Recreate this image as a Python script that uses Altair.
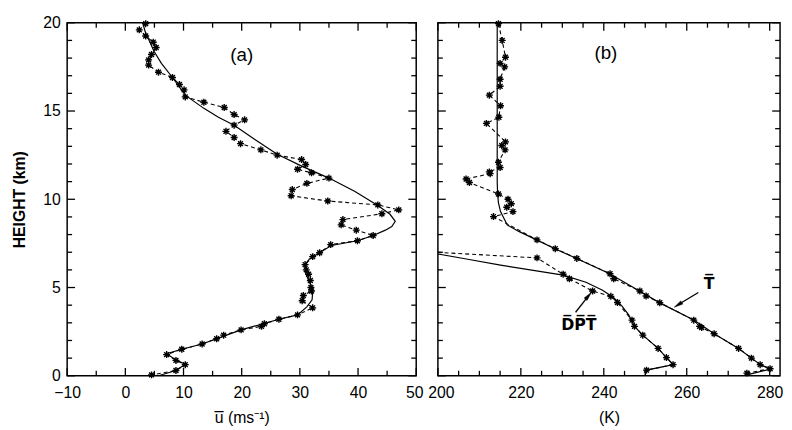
import altair as alt
import pandas as pd

# ---------------- panel (a): zonal wind ----------------
A_OBS_U = [3.5, 2.4, 3.5, 4.8, 5.3, 4.5, 4.0, 4.0, 5.7, 8.1,
           9.3, 10.1, 10.3, 13.5, 17.0, 18.7, 20.5, 18.7, 17.3, 18.7,
           19.8, 23.3, 26.1, 30.3, 31.0, 29.6, 32.0, 35.0, 31.2, 28.7,
           28.5, 34.8, 43.4, 47.0, 44.1, 37.4, 37.1, 39.7, 42.6, 39.9,
           35.3, 33.4, 32.2, 30.9, 31.1, 31.5, 31.8, 31.9, 32.0, 30.6,
           30.4, 32.2, 29.6, 26.4, 23.9, 23.4, 19.9, 16.9, 15.7, 13.2,
           9.7, 7.1, 8.7, 10.3, 8.7, 4.5]
A_OBS_H = [19.95, 19.6, 19.25, 18.9, 18.6, 18.2, 17.9, 17.6, 17.2, 16.9,
           16.5, 16.2, 15.8, 15.5, 15.2, 14.8, 14.5, 14.2, 13.85, 13.5,
           13.15, 12.8, 12.5, 12.25, 11.97, 11.7, 11.5, 11.2, 10.9, 10.55,
           10.2, 9.9, 9.68, 9.4, 9.18, 8.85, 8.55, 8.25, 7.95, 7.65,
           7.43, 6.97, 6.75, 6.3, 6.0, 5.75, 5.4, 5.0, 4.8, 4.55,
           4.25, 3.85, 3.45, 3.2, 2.95, 2.8, 2.6, 2.3, 2.1, 1.8,
           1.5, 1.2, 0.87, 0.63, 0.3, 0.05]
A_FIT_U = [3.0, 3.4, 4.1, 4.9, 6.2, 8.1, 10.3, 13.5, 16.0, 18.7,
           22.2, 26.1, 30.5, 35.0, 39.4, 43.4, 45.5, 46.4, 45.8, 44.7,
           42.6, 39.9, 35.4, 33.4, 31.6, 30.9, 31.0, 31.8, 32.2, 32.1,
           31.2, 29.6, 26.4, 19.9, 13.2, 9.7, 7.1, 8.7, 10.3, 8.7, 5.7]
A_FIT_H = [20.0, 19.5, 19.0, 18.4, 17.7, 16.9, 15.9, 15.15, 14.65, 14.2,
           13.4, 12.55, 11.85, 11.2, 10.45, 9.65, 9.15, 8.75, 8.45, 8.25,
           7.95, 7.65, 7.38, 6.97, 6.6, 6.3, 5.8, 5.2, 4.7, 4.3,
           3.9, 3.45, 3.2, 2.6, 1.8, 1.5, 1.25, 0.9, 0.65, 0.3, 0.0]

# ---------------- panel (b): temperature and dew point ----------------
T_OBS_T = [214.6, 215.5, 216.3, 215.0, 216.1, 215.0, 215.0, 212.4, 215.1, 214.7,
           211.7, 216.3, 215.4, 216.2, 214.6, 215.0, 212.4, 212.6, 206.8, 207.6,
           214.6, 216.9, 217.7, 216.6, 218.1, 213.4, 223.9, 228.3, 233.5, 241.5,
           242.4, 248.7, 250.2, 253.5, 261.7, 263.1, 263.6, 266.6, 272.5, 275.6,
           277.7, 280.1, 274.5]
T_OBS_H = [19.95, 19.0, 18.05, 17.7, 17.5, 16.8, 16.4, 15.9, 15.3, 14.65,
           14.3, 13.25, 13.05, 12.8, 12.1, 11.8, 11.55, 11.45, 11.15, 10.95,
           10.3, 10.0, 9.75, 9.55, 9.3, 9.02, 7.7, 7.2, 6.65, 5.78,
           5.5, 4.8, 4.52, 4.14, 3.15, 2.8, 2.73, 2.38, 1.55, 1.0,
           0.63, 0.4, 0.15]
T_FIT_T = [214.3, 214.3, 214.4, 214.6, 215.1, 216.7, 219.5, 223.8, 228.2, 233.7,
           241.3, 248.3, 253.5, 261.8, 266.6, 272.5, 275.6, 277.8, 280.2, 274.5]
T_FIT_H = [20.0, 11.0, 10.3, 9.8, 9.3, 8.55, 8.18, 7.7, 7.2, 6.62,
           5.8, 4.85, 4.13, 3.15, 2.38, 1.55, 1.0, 0.63, 0.38, 0.05]

D_OBS_T = [180.0, 223.9, 230.2, 231.7, 237.3, 241.7, 243.3, 246.8, 247.4, 249.4,
           253.1, 255.1, 256.7, 250.3]
D_OBS_H = [7.25, 6.68, 5.75, 5.5, 4.8, 4.5, 4.15, 3.15, 2.8, 2.3,
           1.55, 1.03, 0.63, 0.32]
D_FIT_T = [190.0, 200.0, 207.2, 215.1, 223.0, 230.2, 235.7, 239.7, 242.4, 244.4,
           246.0, 247.4, 249.4, 253.1, 255.1, 256.8, 250.3, 250.0]
D_FIT_H = [7.32, 6.9, 6.6, 6.27, 5.97, 5.7, 5.3, 4.85, 4.42, 3.95,
           3.45, 2.8, 2.3, 1.55, 1.03, 0.63, 0.32, 0.05]

# ---------------- axes ----------------
A_X_DOMAIN = [-10, 50]
B_X_DOMAIN = [200, 282.5]
Y_DOMAIN = [0, 20]
A_X_MAJOR = [-10, 0, 10, 20, 30, 40, 50]
A_X_MINOR = [-5, 5, 15, 25, 35, 45]
B_X_MAJOR = [200, 220, 240, 260, 280]
B_X_MINOR = [205, 210, 215, 225, 230, 235, 245, 250, 255, 265, 270, 275]
Y_MAJOR = [0, 5, 10, 15, 20]
Y_MINOR = [1, 2, 3, 4, 6, 7, 8, 9, 11, 12, 13, 14, 16, 17, 18, 19]

# ---------------- annotations ----------------
A_LABEL = {"x": [20.0], "y": [18.15], "t": ["(a)"]}
B_LABEL = {"x": [240.5], "y": [18.3], "t": ["(b)"]}
B_NAMES = {"x": [265.4, 234.0], "y": [5.2, 2.9], "t": ["T\u0305", "D\u0305P\u0305T\u0305"]}
ARROW_X = [262.8, 233.2]
ARROW_Y = [4.72, 3.6]
ARROW_X2 = [257.9, 236.3]
ARROW_Y2 = [4.02, 4.53]
ARROW_ANGLE = [238, 40]

FONT = "Liberation Sans"
ASTER = "M-1,0L1,0M0,-1L0,1M-0.7,-0.7L0.7,0.7M-0.7,0.7L0.7,-0.7"
HEAD = "M0,-1L0.42,1L-0.42,1Z"
W_A, W_B, H = 354, 347, 358
MAJ, MIN = 8, 5   # tick lengths in px


def xy(xs, ys):
    return pd.DataFrame({"x": xs, "y": ys, "i": list(range(len(xs)))})


def x_axis(values, title, edge_value, edge_shift):
    return alt.Axis(values=values, title=title, ticks=False, domain=False, grid=False,
                    labelFlush=False, labelPadding=9, labelFontSize=16, labelFont=FONT,
                    labelColor="black", titleFont=FONT, titleFontSize=16,
                    titleFontWeight="normal", titleColor="black", titleY=47,
                    titleBaseline="alphabetic", format="d",
                    labelOffset={"condition": {"test": f"datum.value == {edge_value}",
                                               "value": edge_shift}, "value": 0})


def tick_df(W, xdom, xmaj, xmin):
    """Inward frame ticks as segments (x, y) -> (x2, y2) in data space."""
    ppx = W / (xdom[1] - xdom[0])
    ppy = H / (Y_DOMAIN[1] - Y_DOMAIN[0])
    x0, x1, y0, y1 = [], [], [], []
    for vals, ln in ((xmaj, MAJ), (xmin, MIN)):
        dy = ln / ppy
        for v in vals:
            x0 += [v, v]
            x1 += [v, v]
            y0 += [Y_DOMAIN[0], Y_DOMAIN[1]]
            y1 += [Y_DOMAIN[0] + dy, Y_DOMAIN[1] - dy]
    for vals, ln in ((Y_MAJOR, MAJ), (Y_MINOR, MIN)):
        dx = ln / ppx
        for v in vals:
            x0 += [xdom[0], xdom[1]]
            x1 += [xdom[0] + dx, xdom[1] - dx]
            y0 += [v, v]
            y1 += [v, v]
    return pd.DataFrame({"x": x0, "y": y0, "x2": x1, "y2": y1})


def profile_layers(X, Y, fit, obs, clip=False):
    fd = xy(*fit)
    od = xy(*obs)
    return [
        alt.Chart(fd).mark_line(color="black", strokeWidth=1.2, clip=clip).encode(x=X, y=Y, order="i:Q"),
        alt.Chart(od).mark_line(color="black", strokeWidth=1.1, strokeDash=[4, 3], clip=clip).encode(x=X, y=Y, order="i:Q"),
        alt.Chart(od).mark_point(shape=ASTER, size=50, stroke="black", strokeWidth=1.4,
                                 filled=False, opacity=1, clip=clip).encode(x=X, y=Y),
    ]


# ---------- panel (a) ----------
XA = alt.X("x:Q", scale=alt.Scale(domain=A_X_DOMAIN, nice=False, zero=False),
           axis=x_axis(A_X_MAJOR, "u\u0305 (ms\u207b\u00b9)", 50, -2))
YA = alt.Y("y:Q", scale=alt.Scale(domain=Y_DOMAIN, nice=False, zero=False),
           axis=alt.Axis(values=Y_MAJOR, title="HEIGHT (km)", ticks=False, domain=False, grid=False,
                         labelPadding=7, labelFontSize=16, labelFont=FONT, labelColor="black",
                         titleFont=FONT, titleFontSize=16, titleFontWeight="bold", titleColor="black",
                         titleX=-48, titleBaseline="middle", format="d"))

a_ticks = alt.Chart(tick_df(W_A, A_X_DOMAIN, A_X_MAJOR, A_X_MINOR)).mark_rule(
    color="black", strokeWidth=1.3).encode(x=XA, y=YA, x2="x2:Q", y2="y2:Q")
a_layers = [a_ticks] + profile_layers(XA, YA, (A_FIT_U, A_FIT_H), (A_OBS_U, A_OBS_H))
a_layers.append(alt.Chart(pd.DataFrame(A_LABEL)).mark_text(font=FONT, fontSize=19, color="black")
                .encode(x=XA, y=YA, text="t:N"))
panel_a = alt.layer(*a_layers).properties(width=W_A, height=H)

# ---------- panel (b) ----------
XB = alt.X("x:Q", scale=alt.Scale(domain=B_X_DOMAIN, nice=False, zero=False),
           axis=x_axis(B_X_MAJOR, "(K)", 200, 3))
YB = alt.Y("y:Q", scale=alt.Scale(domain=Y_DOMAIN, nice=False, zero=False), axis=None)

b_ticks = alt.Chart(tick_df(W_B, B_X_DOMAIN, B_X_MAJOR, B_X_MINOR)).mark_rule(
    color="black", strokeWidth=1.3).encode(x=XB, y=YB, x2="x2:Q", y2="y2:Q")
b_layers = [b_ticks] + profile_layers(XB, YB, (T_FIT_T, T_FIT_H), (T_OBS_T, T_OBS_H))
b_layers += profile_layers(XB, YB, (D_FIT_T, D_FIT_H), (D_OBS_T, D_OBS_H), clip=True)
b_layers.append(alt.Chart(pd.DataFrame(B_LABEL)).mark_text(font=FONT, fontSize=19, color="black")
                .encode(x=XB, y=YB, text="t:N"))
b_layers.append(alt.Chart(pd.DataFrame(B_NAMES)).mark_text(font="DejaVu Sans", fontWeight="bold",
                                                            fontSize=16, color="black")
                .encode(x=XB, y=YB, text="t:N"))
arrows = pd.DataFrame({"x": ARROW_X, "y": ARROW_Y, "x2": ARROW_X2, "y2": ARROW_Y2})
b_layers.append(alt.Chart(arrows).mark_rule(color="black", strokeWidth=1.3)
                .encode(x=XB, y=YB, x2="x2:Q", y2="y2:Q"))
for k in range(len(ARROW_X)):
    head = pd.DataFrame({"x": [ARROW_X2[k]], "y": [ARROW_Y2[k]]})
    b_layers.append(alt.Chart(head).mark_point(shape=HEAD, size=80, filled=True, fill="black",
                                               stroke="black", strokeWidth=0.5, opacity=1,
                                               angle=ARROW_ANGLE[k])
                    .encode(x=XB, y=YB))
panel_b = alt.layer(*b_layers).properties(width=W_B, height=H)

chart = (
    alt.hconcat(panel_a, panel_b, spacing=22, bounds="flush")
    .properties(padding={"left": 3, "top": 3, "right": 0, "bottom": 0}, background="white")
    .configure_view(stroke="black", strokeWidth=1.5)
)

chart.save("out.html", embed_options={"renderer": "svg", "actions": False})
